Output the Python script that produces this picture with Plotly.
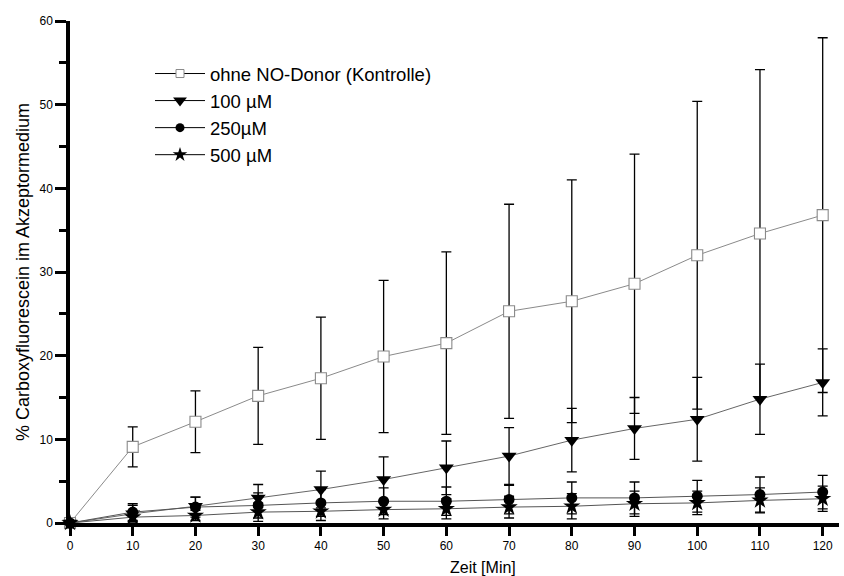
import plotly.graph_objects as go

# Time points (minutes)
zeit = [0, 10, 20, 30, 40, 50, 60, 70, 80, 90, 100, 110, 120]

# Mean values (% carboxyfluorescein in acceptor medium) and standard deviations
kontrolle = [0, 9.1, 12.1, 15.2, 17.3, 19.9, 21.5, 25.3, 26.5, 28.6, 32.0, 34.6, 36.8]
kontrolle_sd = [0, 2.4, 3.7, 5.8, 7.3, 9.1, 10.9, 12.8, 14.5, 15.5, 18.4, 19.6, 21.2]

no_100 = [0, 1.1, 2.0, 3.0, 4.0, 5.2, 6.6, 8.0, 9.9, 11.3, 12.4, 14.8, 16.8]
no_100_sd = [0, 1.0, 1.1, 1.6, 2.2, 2.7, 3.2, 3.4, 3.8, 3.7, 5.0, 4.2, 4.0]

no_250 = [0, 1.3, 1.9, 2.1, 2.4, 2.6, 2.6, 2.8, 3.0, 3.0, 3.2, 3.4, 3.7]
no_250_sd = [0, 1.0, 1.2, 1.5, 1.6, 1.6, 1.7, 1.7, 1.9, 1.9, 1.9, 2.1, 2.0]

no_500 = [0, 0.7, 0.9, 1.3, 1.4, 1.6, 1.7, 1.9, 2.0, 2.3, 2.4, 2.7, 2.9]
no_500_sd = [0, 0.5, 0.6, 1.1, 1.1, 1.1, 1.2, 1.3, 1.5, 1.5, 1.4, 1.5, 1.5]

namen = ["ohne NO-Donor (Kontrolle)", "100 µM", "250µM", "500 µM"]

# (values, sd, plot marker, legend marker, connecting line colour)
series = [
    (kontrolle, kontrolle_sd,
     dict(symbol="square", size=11, color="white", line=dict(width=1.1, color="#8a8a8a")),
     dict(symbol="square", size=8, color="white", line=dict(width=1, color="#8a8a8a")),
     "#8a8a8a"),
    (no_100, no_100_sd,
     dict(symbol="triangle-down", size=13, color="black"),
     dict(symbol="triangle-down", size=12, color="black"),
     "#666666"),
    (no_250, no_250_sd,
     dict(symbol="circle", size=11, color="black"),
     dict(symbol="circle", size=9, color="black"),
     "#555555"),
    (no_500, no_500_sd,
     dict(symbol="star", size=13, color="black"),
     dict(symbol="star", size=11, color="black"),
     "#555555"),
]

fig = go.Figure()
for name, (y, sd, marker, _, lc) in zip(namen, series):
    fig.add_trace(go.Scatter(
        x=zeit, y=y, name=name, mode="lines+markers", showlegend=False,
        line=dict(color=lc, width=1),
        marker=marker,
        error_y=dict(type="data", array=sd, visible=True, color="black",
                     thickness=1.3, width=5),
        cliponaxis=False,
    ))

# Legend entries with black connector lines and smaller symbols
for name, (_, _, _, lmarker, _) in zip(namen, series):
    fig.add_trace(go.Scatter(
        x=[None], y=[None], name=name, mode="lines+markers",
        line=dict(color="black", width=1), marker=lmarker,
    ))

font = "Liberation Sans, Arial, Helvetica, sans-serif"
W, H = 844, 576
L, R, T, B = 70, 5, 21, 53
pw, ph = W - L - R, H - T - B

fig.update_layout(
    width=W, height=H,
    margin=dict(l=L, r=R, t=T, b=B),
    paper_bgcolor="white", plot_bgcolor="white",
    font=dict(family=font, color="black", size=12),
    showlegend=True,
    legend=dict(x=(150 - L) / pw, y=1 - (55 - T) / ph, xanchor="left", yanchor="top",
                font=dict(size=18.5, family=font), bgcolor="rgba(0,0,0,0)",
                tracegroupgap=0, itemwidth=50),
    xaxis=dict(
        range=[0, 122.6], tickmode="array", tickvals=list(range(0, 121, 10)),
        showline=True, linecolor="black", linewidth=3.5,
        ticks="outside", ticklen=9, tickwidth=3, tickcolor="black",
        showgrid=False, zeroline=False,
        tickfont=dict(size=12),
    ),
    yaxis=dict(
        range=[0, 60], tickmode="array", tickvals=list(range(0, 61, 10)),
        showline=True, linecolor="black", linewidth=3.5,
        ticks="outside", ticklen=11, tickwidth=3, tickcolor="black",
        minor=dict(tickvals=[5, 15, 25, 35, 45, 55], ticks="outside",
                   ticklen=7, tickwidth=3, tickcolor="black"),
        showgrid=False, zeroline=False,
        title=dict(text="% Carboxyfluorescein im Akzeptormedium",
                   font=dict(size=18), standoff=6),
        tickfont=dict(size=12),
    ),
    annotations=[dict(
        text="Zeit [Min]", xref="paper", yref="paper",
        x=(483 - L) / pw, y=-(567 - (H - B)) / ph,
        xanchor="center", yanchor="middle", showarrow=False,
        font=dict(size=16, family=font),
    )],
)

fig.write_html("out.html")
